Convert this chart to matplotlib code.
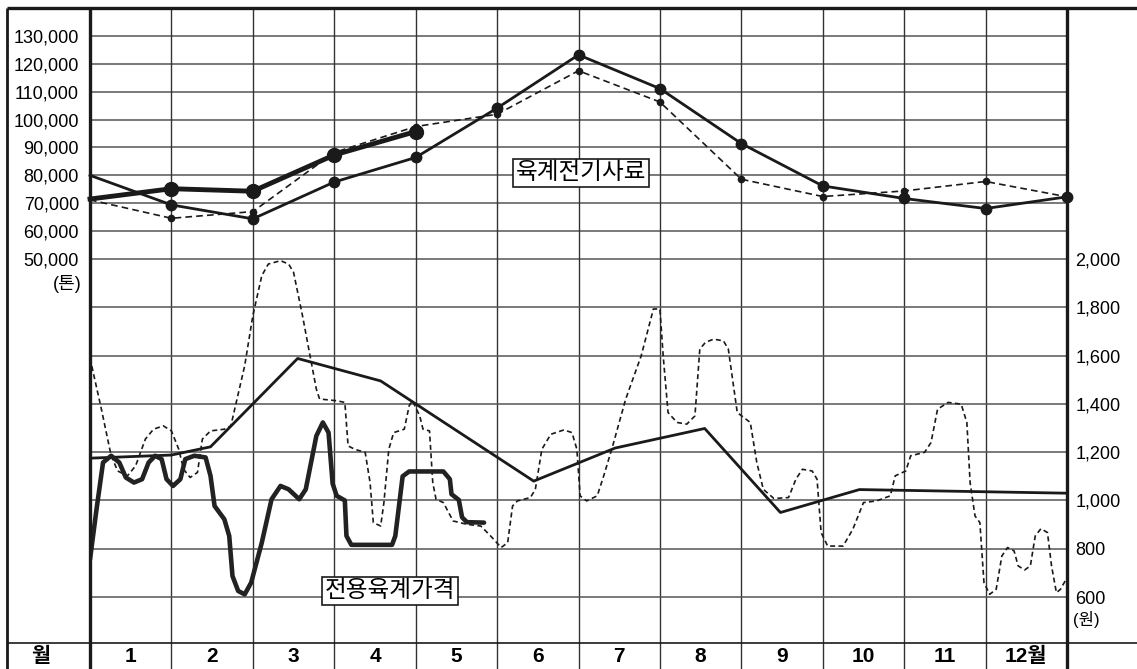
import matplotlib
matplotlib.use('Agg')
import matplotlib.pyplot as plt
from matplotlib.lines import Line2D
from matplotlib.transforms import blended_transform_factory
import numpy as np

plt.rcParams['font.family'] = ['Liberation Sans', 'Noto Sans CJK KR']

# 월 라벨
months = ['1', '2', '3', '4', '5', '6', '7', '8', '9', '10', '11', '12월']

# 육계전기사료 (톤) - 월 경계 0..12
feed_solid = [80000, 69400, 64400, 77600, 86400, 104100, 123200, 111100, 91400, 76200, 71700, 68100, 72300]
feed_dash = [71200, 64600, 67000, 88200, 97500, 101900, 117500, 106300, 78600, 72400, 74400, 77800, 72300]
feed_thick = [71500, 75200, 74300, 87300, 95700]

# 전용육계가격 (원)
price_solid_x = [0, 1.0, 1.48, 2.55, 3.57, 5.45, 6.45, 7.55, 8.48, 9.45, 12]
price_solid = [1175, 1188, 1222, 1588, 1495, 1080, 1217, 1298, 950, 1045, 1030]

price_dash_x = [0.00, 0.14, 0.26, 0.34, 0.46, 0.56, 0.68, 0.78, 0.90, 1.00, 1.09, 1.15, 1.23, 1.32,
                1.38, 1.48, 1.65, 1.73, 1.90, 2.00, 2.11, 2.19, 2.34, 2.44, 2.50, 2.61, 2.71, 2.78,
                2.82, 3.03, 3.13, 3.17, 3.25, 3.38, 3.44, 3.48, 3.57, 3.61, 3.67, 3.73, 3.86, 3.92,
                3.96, 4.05, 4.09, 4.17, 4.21, 4.25, 4.34, 4.46, 4.63, 4.80, 4.92, 5.05, 5.13, 5.19,
                5.25, 5.41, 5.47, 5.55, 5.66, 5.82, 5.92, 5.98, 6.02, 6.10, 6.23, 6.31, 6.42, 6.58,
                6.77, 6.92, 7.00, 7.04, 7.10, 7.21, 7.33, 7.43, 7.49, 7.56, 7.66, 7.78, 7.84, 7.95,
                8.11, 8.19, 8.27, 8.40, 8.58, 8.67, 8.75, 8.87, 8.93, 8.98, 9.06, 9.25, 9.37, 9.50,
                9.66, 9.83, 9.89, 10.02, 10.08, 10.25, 10.33, 10.41, 10.54, 10.70, 10.77, 10.81,
                10.87, 10.93, 10.98, 11.05, 11.13, 11.20, 11.27, 11.35, 11.40, 11.48, 11.55, 11.61,
                11.68, 11.76, 11.81, 11.87, 11.92, 12.00]
price_dash = [1590, 1378, 1185, 1122, 1102, 1143, 1254, 1295, 1309, 1288, 1212, 1129, 1095, 1116,
              1254, 1288, 1295, 1309, 1558, 1765, 1931, 1979, 1993, 1979, 1945, 1765, 1585, 1461,
              1420, 1413, 1406, 1226, 1212, 1199, 1074, 908, 894, 991, 1212, 1281, 1295, 1392,
              1413, 1350, 1295, 1288, 1074, 1005, 991, 915, 901, 894, 853, 805, 825, 977,
              998, 1012, 1046, 1212, 1274, 1292, 1281, 1212, 1019, 998, 1019, 1102, 1226, 1420,
              1599, 1793, 1793, 1599, 1364, 1323, 1316, 1350, 1627, 1655, 1668, 1661, 1627, 1364,
              1323, 1157, 1046, 1008, 1012, 1088, 1129, 1122, 1088, 867, 811, 811, 881, 991,
              998, 1019, 1102, 1122, 1185, 1199, 1240, 1378, 1406, 1399, 1323, 1074,
              936, 908, 660, 611, 632, 770, 805, 791, 729, 712, 729, 853,
              883, 867, 729, 618, 632, 680]

price_thick_x = [0.00, 0.08, 0.16, 0.26, 0.36, 0.44, 0.54, 0.64, 0.72, 0.80, 0.88, 0.94, 1.02, 1.11,
                 1.17, 1.28, 1.42, 1.48, 1.53, 1.65, 1.71, 1.75, 1.82, 1.90, 1.98, 2.11, 2.23, 2.34,
                 2.44, 2.57, 2.65, 2.78, 2.86, 2.93, 2.98, 3.03, 3.13, 3.15, 3.21, 3.71, 3.75, 3.84,
                 3.92, 4.34, 4.42, 4.44, 4.53, 4.57, 4.63, 4.84]
price_thick = [756, 963, 1157, 1185, 1157, 1095, 1074, 1088, 1157, 1185, 1171, 1088, 1060, 1088,
               1171, 1185, 1178, 1102, 977, 922, 853, 687, 625, 611, 660, 825, 1005, 1060,
               1046, 1005, 1046, 1267, 1323, 1281, 1070, 1019, 1000, 853, 816, 816, 853, 1100,
               1120, 1120, 1088, 1026, 1002, 930, 910, 908]

W, H = 1137, 669
fig = plt.figure(figsize=(W / 100, H / 100), dpi=100)
fig.patch.set_facecolor('white')

top_px, bot_px = 8, 643
ax = fig.add_axes([90 / W, (H - bot_px) / H, (1067 - 90) / W, (bot_px - top_px) / H])
ax.set_xlim(0, 12)
ax.set_ylim(-87690, 140000)
ax.patch.set_alpha(0)
ax2 = ax.twinx()
ax2.set_ylim(409.5, 3039.6)
for a in (ax, ax2):
    for s in a.spines.values():
        s.set_visible(False)

ink = '#1a1a1a'
grid = '#555555'

# 격자
for v in range(50000, 130001, 10000):
    ax.axhline(v, color=grid, lw=1.1, zorder=1)
for v in range(600, 1801, 200):
    ax2.axhline(v, color=grid, lw=1.1, zorder=1)
row_h = (H - bot_px) / (bot_px - top_px)
for i in range(1, 12):
    ax.axvline(i, ymin=-row_h, ymax=1, color='#333333', lw=1.0, clip_on=False, zorder=1)

# 사료 (톤) - 시작점(0)에는 점 없음
x13 = np.arange(13)
ax.plot(x13, feed_dash, color=ink, lw=1.2, ls=(0, (4, 2.5)), marker='o', ms=4.5,
        markevery=list(range(1, 12)), clip_on=False, zorder=3)
ax.plot(x13, feed_solid, color=ink, lw=2.0, marker='o', ms=7.5,
        markevery=list(range(1, 13)), clip_on=False, zorder=4)
ax.plot(np.arange(len(feed_thick)), feed_thick, color=ink, lw=3.5, marker='o', ms=10,
        markevery=list(range(1, len(feed_thick))), clip_on=False, zorder=5)

# 가격 (원)
ax2.plot(price_dash_x, price_dash, color=ink, lw=1.2, ls=(0, (3, 2)), zorder=3)
ax2.plot(price_solid_x, price_solid, color=ink, lw=2.0, zorder=4, solid_joinstyle='round')
ax2.plot(price_thick_x, price_thick, color='#222222', lw=3.3, zorder=5,
         solid_joinstyle='round', solid_capstyle='round')

# 눈금 라벨
ax.set_xticks([])
ax.set_yticks(range(50000, 130001, 10000))
ax.set_yticklabels([f'{v:,}' for v in range(50000, 130001, 10000)])
ax.tick_params(axis='y', length=0, pad=8, labelsize=13)
ax2.set_yticks(range(600, 2001, 200))
ax2.set_yticklabels([f'{v:,}' for v in range(600, 2001, 200)])
ax2.tick_params(axis='y', length=0, pad=6, labelsize=13)


def px(x, y):
    return x / W, 1 - y / H


fig.text(*px(82, 284), '(톤)', ha='right', va='center', fontsize=13)
fig.text(*px(1073, 620), '(원)', ha='left', va='center', fontsize=12)

# 월 행
tr = blended_transform_factory(ax.transData, ax.transAxes)
for i, m in enumerate(months):
    ax.text(i + 0.5, -row_h / 2, m, transform=tr, ha='center', va='center',
            fontsize=15, fontweight='bold')
fig.text(*px(41, 656), '월', ha='center', va='center', fontsize=15, fontweight='bold')

# 박스 라벨
box = dict(boxstyle='square,pad=0.12', fc='white', ec=ink, lw=1.2)
fig.text(*px(581, 173), '육계전기사료', ha='center', va='center', fontsize=17, bbox=box, zorder=10)
fig.text(*px(390, 591), '전용육계가격', ha='center', va='center', fontsize=17, bbox=box, zorder=10)


# 테두리
def fline(x0, y0, x1, y1, lw):
    fig.add_artist(Line2D([x0 / W, x1 / W], [1 - y0 / H, 1 - y1 / H], color=ink, lw=lw,
                          transform=fig.transFigure, solid_capstyle='butt'))


fline(7, 8, 1137, 8, 2.4)
fline(7, 8, 7, 669, 2.0)
fline(90, 8, 90, 669, 2.4)
fline(1067, 8, 1067, 669, 2.4)
fline(7, 643, 1137, 643, 1.2)

fig.savefig('out.png', dpi=100, facecolor='white')
